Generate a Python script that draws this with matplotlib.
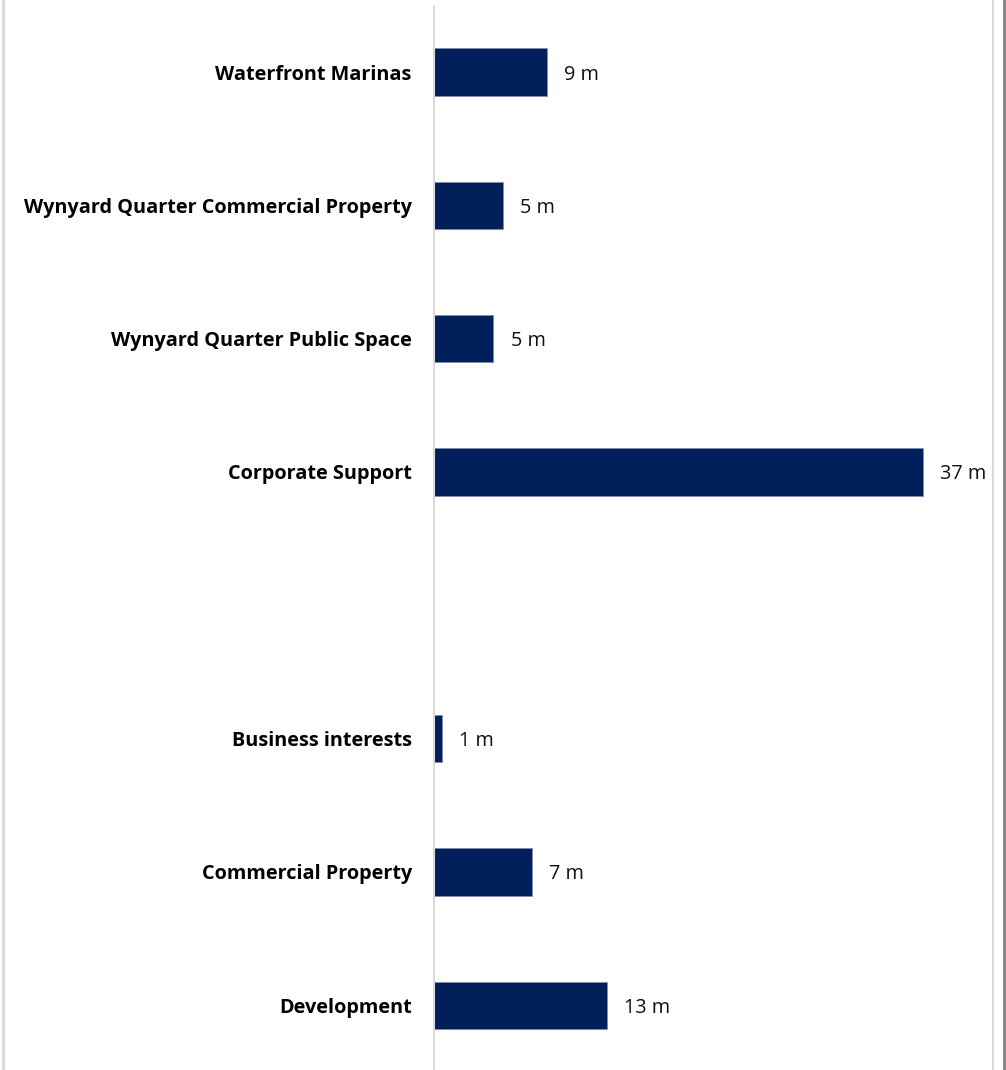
import numpy as np
import matplotlib.pyplot as plt
from matplotlib.lines import Line2D

# categories top to bottom, blank slot is a gap in the chart
categories = ['Waterfront Marinas', 'Wynyard Quarter Commercial Property',
              'Wynyard Quarter Public Space', 'Corporate Support', '',
              'Business interests', 'Commercial Property', 'Development']
values = [8.55, 5.2, 4.5, 37.0, None, 0.6, 7.4, 13.1]
value_labels = ['9 m', '5 m', '5 m', '37 m', '', '1 m', '7 m', '13 m']

W, H = 1006, 1070
fig = plt.figure(figsize=(W / 100, H / 100), dpi=100)
ax = fig.add_axes([434 / W, 0, (990 - 434) / W, 1 - 7 / H])

pos = [i for i, v in enumerate(values) if v is not None]
vals = [values[i] for i in pos]
ax.barh(pos, vals, height=0.355, color='#001F5B', edgecolor='#7f8fae', linewidth=0.6)

for i in pos:
    ax.text(values[i] + 1.3, i, value_labels[i], va='center_baseline', ha='left',
            fontsize=14.3, family='Open Sans', color='#111111')

ax.set_xlim(0, 37.0 * (990 - 434) / (923 - 434))
ax.set_ylim((1070 - 72) / 133.33, -65 / 133.33)
ax.set_yticks(range(len(categories)))
ax.set_yticklabels(categories, fontsize=14.3, fontweight='bold', family='Open Sans')
ax.tick_params(axis='y', length=0, pad=16)
ax.set_xticks([])
for s in ['top', 'right', 'bottom']:
    ax.spines[s].set_visible(False)
ax.spines['left'].set_color('#d9d9d9')
ax.spines['left'].set_linewidth(1.5)

# outer frame lines
fig.add_artist(Line2D([3 / W, 3 / W], [0, 1], color='#d9d9d9', lw=2))
fig.add_artist(Line2D([993 / W, 993 / W], [0, 1], color='#d9d9d9', lw=1.5))
fig.add_artist(Line2D([1004 / W, 1004 / W], [0, 1], color='#808080', lw=2))

fig.savefig('out.png', dpi=100)
